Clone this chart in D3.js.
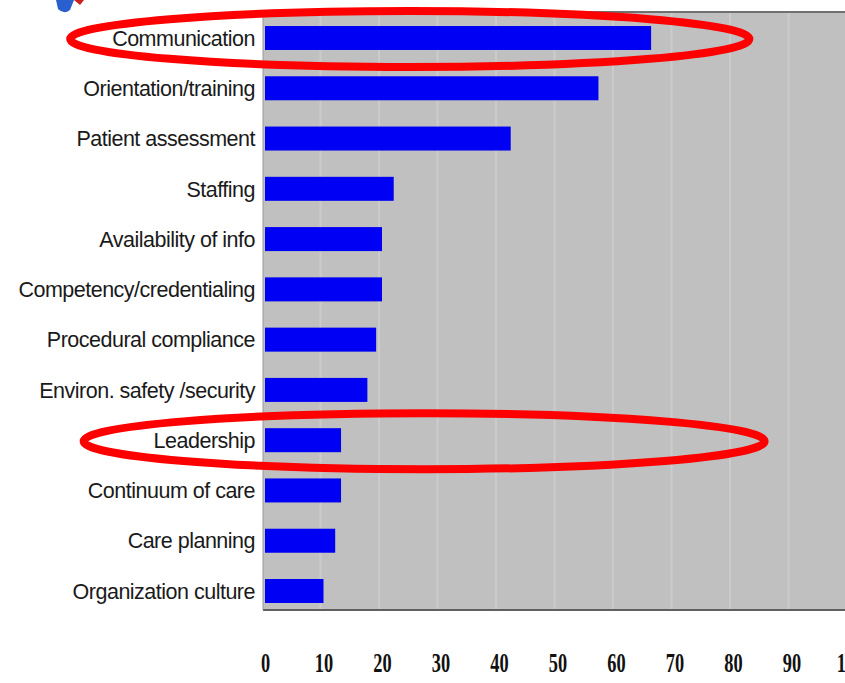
<!DOCTYPE html>
<html>
<head>
<meta charset="utf-8">
<script src="https://cdn.jsdelivr.net/npm/d3@7"></script>
<style>
  body { margin: 0; background: #fff; }
  svg { display: block; }
</style>
</head>
<body>
<div id="wrapper"></div>
<script>
// data
const categories = [
    "Communication",
    "Orientation/training",
    "Patient assessment",
    "Staffing",
    "Availability of info",
    "Competency/credentialing",
    "Procedural compliance",
    "Environ. safety /security",
    "Leadership",
    "Continuum of care",
    "Care planning",
    "Organization culture"
]
const values = [66, 57, 42, 22, 20, 20, 19, 17.5, 13, 13, 12, 10]
const tickValues = [0, 10, 20, 30, 40, 50, 60, 70, 80, 90, 100]
const gridValues = [10, 20, 30, 40, 50, 60, 70, 80, 90]

// red rings drawn over the chart (category, left end, right end in axis units)
const highlightCats = ["Communication", "Leadership"]
const highlightFrom = [-33.3, -31]
const highlightTo = [82.8, 85.4]

const dataset = categories.map((c, i) => ({ name: c, value: values[i] }))

const nameAccessor = d => d.name
const valueAccessor = d => d.value

let dimensions = {
    width: 845,
    height: 683,
    plotLeft: 263,
    plotTop: 12,
    plotBottom: 610,
}

const wrapper = d3.select("#wrapper")
    .append("svg")
    .attr("width", dimensions.width)
    .attr("height", dimensions.height)

const xScaler = d3.scaleLinear()
    .domain([0, 100])
    .range([265, 850])

const yScaler = d3.scalePoint()
    .domain(categories)
    .range([38, 591])

const barHeight = 24

// plot background
wrapper.append("rect")
    .attr("x", dimensions.plotLeft)
    .attr("y", dimensions.plotTop)
    .attr("width", dimensions.width - dimensions.plotLeft)
    .attr("height", dimensions.plotBottom - dimensions.plotTop)
    .attr("fill", "#c0c0c0")

// faint grid
wrapper.append("g")
    .selectAll("line")
    .data(gridValues)
    .enter()
    .append("line")
    .attr("x1", d => xScaler(d) - 3)
    .attr("x2", d => xScaler(d) - 3)
    .attr("y1", dimensions.plotTop)
    .attr("y2", dimensions.plotBottom)
    .attr("stroke", "#cbcbcb")
    .attr("stroke-width", 2)

// borders
wrapper.append("line")
    .attr("x1", dimensions.plotLeft).attr("x2", dimensions.width)
    .attr("y1", dimensions.plotTop).attr("y2", dimensions.plotTop)
    .attr("stroke", "#707070").attr("stroke-width", 2)
wrapper.append("line")
    .attr("x1", dimensions.plotLeft).attr("x2", dimensions.width)
    .attr("y1", dimensions.plotBottom).attr("y2", dimensions.plotBottom)
    .attr("stroke", "#606060").attr("stroke-width", 2)
wrapper.append("line")
    .attr("x1", dimensions.plotLeft).attr("x2", dimensions.plotLeft)
    .attr("y1", dimensions.plotTop).attr("y2", dimensions.plotBottom)
    .attr("stroke", "#9a9a9a").attr("stroke-width", 1)

// bars
wrapper.append("g")
    .selectAll("rect")
    .data(dataset)
    .enter()
    .append("rect")
    .attr("x", xScaler(0))
    .attr("y", d => yScaler(nameAccessor(d)) - barHeight / 2)
    .attr("width", d => xScaler(valueAccessor(d)) - xScaler(0))
    .attr("height", barHeight)
    .attr("fill", "#0000f4")

// category labels
wrapper.append("g")
    .selectAll("text")
    .data(dataset)
    .enter()
    .append("text")
    .attr("x", 255)
    .attr("y", d => yScaler(nameAccessor(d)))
    .attr("dy", "0.36em")
    .attr("text-anchor", "end")
    .attr("font-family", "Liberation Sans, Arial, sans-serif")
    .attr("font-size", "21.5px")
    .attr("letter-spacing", "-0.5px")
    .attr("fill", "#1a1a1a")
    .text(nameAccessor)

// x axis labels
const xAxisGen = d3.axisBottom(xScaler)
    .tickValues(tickValues)
    .tickSize(0)
    .tickFormat(d3.format("d"))
const xAxis = wrapper.append("g")
    .attr("transform", "translate(0,650)")
    .call(xAxisGen)
xAxis.select(".domain").remove()
xAxis.selectAll("text")
    .attr("font-family", "Liberation Serif, Times New Roman, serif")
    .attr("font-weight", "bold")
    .attr("font-size", "27px")
    .attr("fill", "#111")
    .attr("transform", "scale(0.68,1)")

// red rings
wrapper.append("g")
    .selectAll("ellipse")
    .data(highlightCats)
    .enter()
    .append("ellipse")
    .attr("cx", (d, i) => (xScaler(highlightFrom[i]) + xScaler(highlightTo[i])) / 2)
    .attr("cy", d => yScaler(d) + 1)
    .attr("rx", (d, i) => (xScaler(highlightTo[i]) - xScaler(highlightFrom[i])) / 2)
    .attr("ry", 28)
    .attr("fill", "none")
    .attr("stroke", "#ff0000")
    .attr("stroke-width", 8)

// bit of a logo cut off at the top
wrapper.append("path")
    .attr("d", "M56,0 L74,0 L70,10 Q64,15 58,9 Z")
    .attr("fill", "#2a5fd0")
wrapper.append("path")
    .attr("d", "M74,0 L84,0 L80,5 Z")
    .attr("fill", "#cc2020")
</script>
</body>
</html>
